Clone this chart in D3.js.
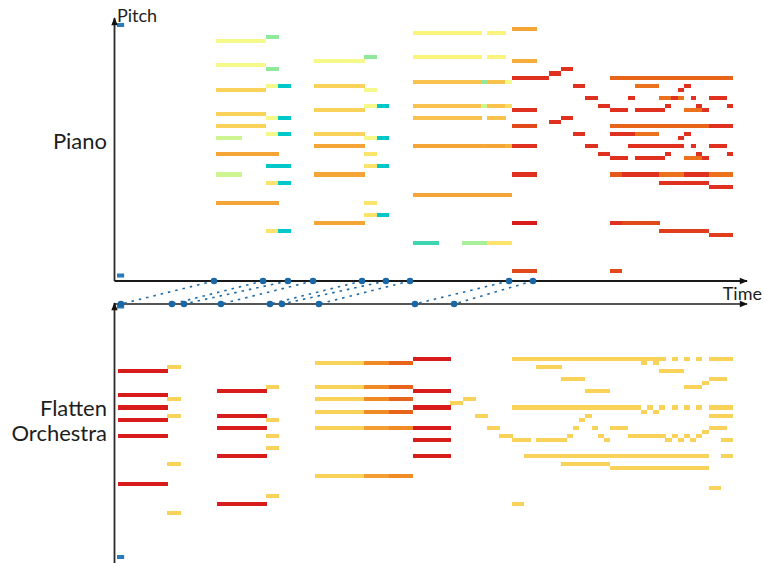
<!DOCTYPE html>
<html>
<head>
<meta charset="utf-8">
<script src="https://cdn.jsdelivr.net/npm/d3@7"></script>
<style>
  html, body { margin: 0; padding: 0; background: #fff; }
  svg { display: block; }
  text { font-family: Lato, "Noto Sans", sans-serif; fill: #1e1e1e; }
</style>
</head>
<body>
<svg id="chart" width="764" height="563"></svg>
<script>
// Notes: [start beat, end beat, pitch, score]
const pianoNotes = [
  // bar 1
  [6.03, 6.55, 93, .2], [4, 6.04, 92, .45], [4, 6.04, 86, .45], [6.03, 6.55, 85, .2],
  [6.03, 6.52, 81, .45], [6.52, 7.05, 81, 0], [4, 6.04, 80, .62], [4, 6.04, 74, .62],
  [6.03, 6.52, 73, .45], [6.52, 7.05, 73, 0], [4, 6.04, 71, .62],
  [6.03, 6.52, 69, .45], [6.52, 7.05, 69, 0], [4, 5.05, 68, .35], [4, 6.56, 64, .75],
  [6.03, 7.05, 61, 0], [4, 5.05, 59, .35], [6.03, 6.52, 57, .55], [6.52, 7.05, 57, 0],
  [4, 6.56, 52, .75], [6.03, 6.52, 45, .55], [6.52, 7.05, 45, 0],
  // bar 2
  [10.02, 10.55, 88, .2], [7.96, 10.04, 87, .45], [7.96, 10.04, 81, .62], [10.02, 10.55, 80, .45],
  [10.02, 10.52, 76, .45], [10.52, 11.03, 76, 0], [7.96, 10.04, 75, .62], [7.96, 10.04, 69, .62],
  [10.02, 10.52, 68, .45], [10.52, 11.03, 68, 0], [7.96, 10.04, 66, .75], [10.02, 10.55, 64, .55],
  [10.02, 10.52, 61, .55], [10.52, 11.03, 61, 0], [7.96, 10.04, 59, .75], [10.02, 10.55, 52, .55],
  [10.02, 10.52, 49, .55], [10.52, 11.03, 49, 0], [7.96, 10.04, 47, .75],
  // bar 3
  [12, 14.8, 94, .5], [15, 15.78, 94, .5], [12, 14.8, 88, .5], [15, 15.78, 88, .5],
  [12, 14.76, 82, .68], [14.76, 15, 82, .2], [15, 15.74, 82, .68], [15.74, 16.03, 82, .45],
  [12, 14.76, 76, .68], [14.76, 15, 76, .35], [15, 15.74, 76, .68], [15.74, 16.03, 76, .58],
  [12, 14.8, 73, .68], [15, 15.78, 73, .68],
  [12, 14.76, 66, .75], [14.76, 15, 66, .74], [15, 15.74, 66, .75], [15.74, 16.03, 66, .72],
  [12, 16.03, 54, .75], [12, 13.06, 42, .1], [14, 15, 42, .28], [15, 16.03, 42, .55],
  // bars 4-5
  [16.03, 17.04, 95, .75], [16.03, 17.04, 87, .73], [18.01, 18.5, 85, .97], [17.52, 18.01, 84, .97],
  [16.03, 17.52, 83, .97], [20, 25, 83, .88],
  [18.5, 19, 81, .97], [21.02, 22, 81, .86], [23.02, 23.27, 81, .97],
  [22.75, 23.02, 80, .97],
  [19, 19.53, 78, .97], [20.75, 21.02, 78, .97], [22, 22.48, 78, .86], [22.48, 22.75, 78, .97],
  [22.75, 23.02, 78, .86], [23.27, 23.5, 78, .97], [24, 24.77, 78, .97],
  [19.53, 20, 76, .97], [22.25, 22.48, 76, .97], [23.5, 23.75, 76, .97], [24.77, 25, 76, .97],
  [16.03, 17.04, 75, .97], [20, 20.75, 75, .97], [21.02, 22.25, 75, .97], [23.02, 23.75, 75, .86], [23.75, 24, 75, .97],
  [18.01, 18.5, 73, .97], [17.52, 18.01, 72, .97],
  [16.03, 17.04, 71, .93], [20, 24, 71, .88], [24, 25, 71, .97],
  [18.5, 19, 69, .97], [20, 21.02, 69, .97], [21.02, 22, 69, .86], [23.02, 23.27, 69, .97],
  [22.75, 23.02, 68, .97],
  [16.03, 17.04, 66, .97], [19, 19.53, 66, .97], [20.75, 23.02, 66, .97], [23.27, 23.5, 66, .97], [24, 24.77, 66, .97],
  [19.53, 20, 64, .97], [22.25, 22.48, 64, .97], [23.5, 23.75, 64, .97], [24.77, 25, 64, .97],
  [20, 20.75, 63, .97], [21.02, 22.25, 63, .97], [23.02, 23.75, 63, .86], [23.75, 24, 63, .97],
  [16.03, 17.04, 59, .97], [20, 20.49, 59, .9], [20.49, 22, 59, .97], [22, 23.02, 59, .86], [23.02, 24, 59, .97], [24, 25, 59, .86],
  [22, 24, 57, .97], [24, 25, 56, .97],
  [16.03, 17.04, 47, 1], [20, 20.49, 47, .97], [20.49, 22.03, 47, .93],
  [22, 24, 45, .95], [24, 25, 44, .95],
  [16.03, 17.04, 35, .93], [20, 20.5, 35, .93]
];

const orchestraNotes = [
  // bar 1
  [0, 2.05, 80, 1], [0, 2.05, 74, 1], [0, 2.05, 71, 1], [0, 2.05, 68, 1], [0, 2.05, 64, 1], [0, 2.05, 52, 1],
  [2, 2.58, 81, .62], [2, 2.58, 73, .62], [2, 2.58, 69, .62], [2, 2.58, 57, .62], [2, 2.58, 45, .62],
  // bar 2
  [4.04, 6.07, 75, 1], [4.04, 6.07, 69, 1], [4.04, 6.07, 66, 1], [4.04, 6.07, 59, 1], [4.04, 6.07, 47, 1],
  [6.03, 6.56, 76, .62], [6.03, 6.56, 68, .62], [6.03, 6.56, 64, .62], [6.03, 6.56, 61, .62], [6.03, 6.56, 49, .62],
  // bar 3
  [8, 10, 82, .62], [10, 11.03, 82, .82], [11.03, 12, 82, .88],
  [8, 10, 76, .62], [10, 11.03, 76, .82], [11.03, 12, 76, .88],
  [8, 10, 73, .62], [10, 11.03, 73, .82], [11.03, 12, 73, .88],
  [8, 10, 70, .62], [10, 11.03, 70, .82], [11.03, 12, 70, .88],
  [8, 10, 66, .62], [10, 11.03, 66, .77], [11.03, 12, 66, .82],
  [8, 10, 54, .62], [10, 11.03, 54, .77], [11.03, 12, 54, .82],
  [12, 13.54, 83, 1], [12, 13.54, 75, 1], [12, 13.54, 71, 1], [12, 13.54, 66, 1], [12, 13.54, 63, 1], [12, 13.54, 59, 1],
  [13.5, 14.03, 72, .62], [14.03, 14.56, 73, .62], [14.5, 15.05, 69, .62], [15, 15.53, 66, .62], [15.5, 16.06, 64, .62],
  // bars 4-5
  [16, 22.27, 83, .62], [22.5, 22.75, 83, .62], [23, 23.25, 83, .62], [23.5, 23.75, 83, .62], [24, 25, 83, .62],
  [21.25, 21.5, 82, .62], [21.75, 22, 82, .62],
  [17, 18.05, 81, .62], [22, 23, 80, .62], [18, 19, 78, .62], [24, 24.75, 78, .62],
  [23.75, 24, 77, .62], [23, 23.75, 76, .62], [19, 20, 75, .62],
  [16, 21.27, 71, .62], [21.5, 21.75, 71, .62], [22, 22.25, 71, .62], [22.5, 22.75, 71, .62],
  [23, 23.25, 71, .62], [23.5, 23.75, 71, .62], [24, 25, 71, .62],
  [21.25, 21.5, 70, .62], [21.75, 22, 70, .62],
  [19, 19.25, 69, .62], [24, 25, 69, .62], [18.75, 19, 68, .62],
  [18.5, 18.75, 66, .62], [19.25, 19.5, 66, .62], [20, 20.75, 66, .62], [24, 24.75, 66, .62],
  [23.75, 24, 65, .62],
  [18.25, 18.5, 64, .62], [19.5, 19.75, 64, .62], [20.75, 22.27, 64, .62], [22.5, 22.75, 64, .62],
  [23, 23.25, 64, .62], [23.5, 23.75, 64, .62],
  [16, 16.78, 63, .62], [17, 18.25, 63, .62], [19.75, 20, 63, .62], [22.25, 22.5, 63, .62],
  [22.75, 23, 63, .62], [23.25, 23.5, 63, .62], [24.5, 25, 63, .62],
  [16.5, 24, 59, .62], [24.5, 25, 59, .62],
  [18, 20, 57, .62], [20, 24, 56, .62], [24, 24.5, 51, .62], [16, 16.5, 47, .62]
];

// pitch-range markers drawn at the lowest and highest pitch of each roll
const rangeMarks = [[-0.02, 0.27, 96], [-0.02, 0.27, 34]];

// aligned onsets (beats) between the piano roll and the orchestra roll
const pianoAnchors = [3.92, 5.91, 6.92, 7.94, 9.93, 10.9, 11.88, 15.9, 16.87];
const orchestraAnchors = [0.14, 2.21, 2.7, 4.2, 6.19, 6.68, 8.18, 12.08, 13.67];

// score colour map
const scoreStops  = [0, .1, .2, .28, .35, .45, .5, .55, .62, .68, .75, .82, .88, .93, .97, 1];
const scoreColors = ["#00c8c8", "#3ed6b0", "#90e89a", "#a8ef98", "#cdf590", "#f4f98a", "#fbf47c",
                     "#fce46c", "#f9d25a", "#f9c24c", "#f5a535", "#f08a22", "#e8641a", "#e04a1a",
                     "#e03020", "#d81c1c"];

const svg = d3.select("#chart");
const pitchTop = 96, pitchBottom = 34;

const x = d3.scaleLinear().domain([0, 25]).range([117.5, 117.5 + 25 * 24.625]);
const yPiano = d3.scaleLinear().domain([pitchTop, pitchBottom]).range([25, 275.5]);
const yOrch = d3.scaleLinear().domain([pitchTop, pitchBottom]).range([306.5, 557]);
const rowH = Math.abs(yPiano(pitchTop) - yPiano(pitchTop - 1));
const color = d3.scaleLinear().domain(scoreStops).range(scoreColors).clamp(true);

const axisLeft = 114.5, axisRight = 747;
const pianoAxisY = 281, orchAxisY = 304;

function drawRoll(notes, y, cls) {
  svg.append("g").attr("class", cls)
    .selectAll("rect").data(notes).join("rect")
    .attr("x", d => x(d[0]))
    .attr("width", d => x(d[1]) - x(d[0]))
    .attr("y", d => y(d[2]) - rowH / 2)
    .attr("height", rowH)
    .attr("fill", d => color(d[3]))
    .attr("shape-rendering", "crispEdges");
}
drawRoll(pianoNotes, yPiano, "piano");
drawRoll(orchestraNotes, yOrch, "orchestra");

[yPiano, yOrch].forEach(y => {
  svg.append("g").selectAll("rect").data(rangeMarks).join("rect")
    .attr("x", d => x(d[0]))
    .attr("width", d => x(d[1]) - x(d[0]))
    .attr("y", d => y(d[2]) - rowH / 2)
    .attr("height", rowH)
    .attr("fill", "#2b7bba");
});

// arrowheads
const defs = svg.append("defs");
defs.append("marker")
  .attr("id", "arrow").attr("viewBox", "0 0 10 10")
  .attr("refX", 9).attr("refY", 5)
  .attr("markerWidth", 10).attr("markerHeight", 8)
  .attr("markerUnits", "userSpaceOnUse")
  .attr("orient", "auto")
  .append("path").attr("d", "M0,1 L10,5 L0,9 Z").attr("fill", "#111");

const axes = [
  [axisLeft, pianoAxisY, axisLeft, 18, "#2a2a2a"],
  [axisLeft, pianoAxisY, axisRight, pianoAxisY, "#1a1a1a"],
  [axisLeft, orchAxisY, axisRight, orchAxisY, "#555"],
  [axisLeft, 563, axisLeft, orchAxisY - 1, "#2a2a2a"]
];
svg.append("g").selectAll("line").data(axes).join("line")
  .attr("x1", d => d[0]).attr("y1", d => d[1])
  .attr("x2", d => d[2]).attr("y2", d => d[3])
  .attr("stroke", d => d[4]).attr("stroke-width", 1.8)
  .attr("marker-end", "url(#arrow)");

// alignment links
const links = d3.zip(pianoAnchors, orchestraAnchors);
svg.append("g").selectAll("line").data(links).join("line")
  .attr("x1", d => x(d[0])).attr("y1", pianoAxisY)
  .attr("x2", d => x(d[1])).attr("y2", orchAxisY)
  .attr("stroke", "#1f6aa5").attr("stroke-width", 1.6)
  .attr("stroke-dasharray", "2.5,5");

const dots = pianoAnchors.map(t => [t, pianoAxisY]).concat(orchestraAnchors.map(t => [t, orchAxisY]));
svg.append("g").selectAll("circle").data(dots).join("circle")
  .attr("cx", d => x(d[0])).attr("cy", d => d[1])
  .attr("r", 3.3).attr("fill", "#1a67a6");

// labels
svg.append("text").attr("x", 117).attr("y", 22).attr("font-size", 18).text("Pitch");
svg.append("text").attr("x", 762).attr("y", 300).attr("font-size", 18).attr("text-anchor", "end").text("Time");
svg.append("text").attr("x", 107).attr("y", 149).attr("font-size", 22).attr("text-anchor", "end").text("Piano");
svg.append("text").attr("x", 107).attr("y", 416).attr("font-size", 22).attr("text-anchor", "end").text("Flatten");
svg.append("text").attr("x", 107).attr("y", 441).attr("font-size", 22).attr("text-anchor", "end").text("Orchestra");
</script>
</body>
</html>
